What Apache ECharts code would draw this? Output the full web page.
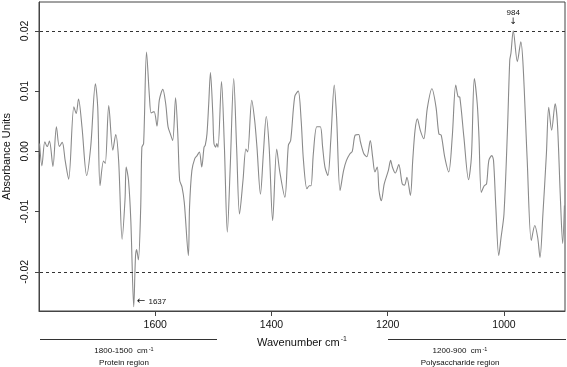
<!DOCTYPE html>
<html>
<head>
<meta charset="utf-8">
<script src="https://cdn.jsdelivr.net/npm/echarts@6/dist/echarts.min.js"></script>
<style>
html, body { margin: 0; padding: 0; background: #fff; }
#chart { width: 567px; height: 367px; }
</style>
</head>
<body>
<div id="chart"></div>
<script>
// spectrum (wavenumber in cm-1, absorbance units)
const wavenumber = [
  1799, 1795, 1790, 1786, 1782, 1776, 1770, 1765, 1760, 1755, 1749, 1740, 1736, 1732, 1726,
  1718, 1711, 1703, 1699, 1695, 1689, 1686, 1680, 1673, 1668, 1663, 1657, 1652, 1650,
  1646, 1642, 1637, 1634, 1632, 1629, 1625, 1623, 1620, 1615, 1610, 1607, 1602, 1597, 1593,
  1587, 1582, 1578, 1574, 1570, 1565, 1561, 1558, 1554, 1550, 1543, 1541, 1537, 1532, 1528,
  1524, 1520, 1516, 1514, 1511, 1508, 1505, 1501,
  1499, 1496, 1494, 1492, 1486, 1481, 1476, 1471, 1465, 1460, 1455, 1449, 1444, 1441, 1434,
  1429, 1425, 1419, 1414, 1409, 1404, 1398, 1391, 1386, 1377, 1371, 1367, 1360, 1354, 1349,
  1345, 1339, 1335, 1332, 1328, 1322, 1316, 1312, 1308, 1303, 1298, 1292, 1288, 1282, 1276,
  1271, 1265, 1261, 1256, 1250, 1247, 1241, 1236, 1230, 1226, 1222, 1218, 1215, 1211, 1206, 1199,
  1195, 1192, 1187, 1181, 1175, 1171, 1167, 1161, 1157, 1153, 1149, 1144, 1138, 1132, 1124,
  1117, 1112, 1108, 1102, 1095, 1089, 1083, 1079, 1076, 1069, 1061, 1056, 1051,
  1046, 1043, 1039, 1034, 1030, 1026, 1021, 1018, 1014, 1009, 1005, 1000, 994, 990, 988,
  984, 977, 971, 967, 960, 953, 947, 942, 938, 933, 927, 923, 918, 912, 908, 903, 899, 896
];
const absorbance = [
  0.0013, -0.0024, 0.0016, 0.0008, 0.0017, -0.0025, 0.0041, 0.0008, 0.0015, -0.0015, -0.0046, 0.0074, 0.0063, 0.0087, 0.0040,
  -0.0040, 0.0008, 0.0112, 0.0074, -0.0057, -0.0016, -0.0020, 0.0076, 0.0002, 0.0028, -0.0015, -0.0146, -0.0080, -0.0026,
  -0.0048, -0.0115, -0.0258, -0.0175, -0.0163, -0.0180, -0.0093, 0.0007, 0.0013, 0.0165, 0.0091, 0.0064, 0.0066, 0.0042, 0.0085,
  0.0103, 0.0079, 0.0041, 0.0029, 0.0018, 0.0089, 0.0024, -0.0048, -0.0059, -0.0085, -0.0173, -0.0093, -0.0032, -0.0012, -0.0007,
  -0.0001, -0.0026, 0.0007, 0.0010, 0.0029, 0.0079, 0.0131, 0.0063,
  0.0013, 0.0007, 0.0013, 0.0007, 0.0116, 0.0007, -0.0134, -0.0026, 0.0121, 0.0007, -0.0104, -0.0048, 0.0004, -0.0001, 0.0085,
  0.0052, 0.0007, -0.0071, -0.0004, 0.0058, 0.0007, -0.0115, 0.0004, -0.0032, -0.0076, 0.0010, 0.0018, 0.0091, 0.0100, 0.0052,
  -0.0015, -0.0062, -0.0057, -0.0057, -0.0004, 0.0041, 0.0041, 0.0007, -0.0026, -0.0040, 0.0018, 0.0110, 0.0057, -0.0065, -0.0032,
  -0.0015, -0.0004, 0.0000, 0.0027, 0.0028, 0.0016, -0.0004, -0.0009, 0.0018, -0.0009, -0.0034, -0.0026, -0.0065, -0.0082, -0.0054, -0.0032,
  -0.0015, -0.0026, -0.0036, -0.0022, -0.0054, -0.0056, -0.0043, -0.0073, -0.0015, 0.0035, 0.0054, 0.0035, 0.0021, 0.0071, 0.0104,
  0.0074, 0.0029, 0.0027, -0.0009, -0.0034, 0.0024, 0.0110, 0.0091, 0.0090, 0.0024, -0.0047, -0.0009, 0.0121,
  0.0079, 0.0024, -0.0068, -0.0057, -0.0054, -0.0015, -0.0007, -0.0015, -0.0093, -0.0173, -0.0143, -0.0104, 0.0035, 0.0152, 0.0163,
  0.0200, 0.0149, 0.0182, 0.0141, -0.0015, -0.0148, -0.0123, -0.0143, -0.0176, -0.0104, -0.0004, 0.0073, 0.0035, 0.0079, 0.0046, -0.0076, -0.0153, -0.0090
];

const xTicks = [1600, 1400, 1200, 1000];
const yTicks = [-0.02, -0.01, 0, 0.01, 0.02];
const thresholds = [0.02, -0.02];
const peakUp = 984;
const peakDown = 1637;

const FONT = 'Liberation Sans, Arial, sans-serif';

var myChart = echarts.init(document.getElementById('chart'));

const seriesData = wavenumber.map(function (w, i) { return [w, absorbance[i]]; });
const valueAt = function (w) { return absorbance[wavenumber.indexOf(w)]; };

option = {
    animation: false,
    grid: {
        left: 39, right: 2, top: 2, bottom: 56,
        outerBoundsMode: 'none',
        containLabel: false,
        show: true, borderColor: '#444', borderWidth: 1
    },
    xAxis: {
        type: 'value',
        inverse: true,
        min: 895,
        max: 1800,
        name: '{n|Wavenumber cm}{s|-1}',
        nameLocation: 'middle',
        nameGap: 25,
        nameTextStyle: {
            rich: {
                n: { fontFamily: FONT, fontSize: 11, color: '#111' },
                s: { fontFamily: FONT, fontSize: 7, color: '#111', padding: [0, 0, 6, 1] }
            }
        },
        axisLine: { show: true, onZero: false, lineStyle: { color: '#444' } },
        axisTick: { show: true, length: 5, customValues: xTicks, lineStyle: { color: '#444' } },
        axisLabel: {
            customValues: xTicks, margin: 9, fontFamily: FONT, fontSize: 10.5, color: '#111',
            formatter: function (v) { return String(v); }
        },
        splitLine: { show: false }
    },
    yAxis: {
        type: 'value',
        min: -0.0265,
        max: 0.0248,
        name: 'Absorbance Units',
        nameLocation: 'middle',
        nameGap: 27,
        nameTextStyle: { fontFamily: FONT, fontSize: 11, color: '#111' },
        axisLine: { show: true, lineStyle: { color: '#444' } },
        axisTick: { show: true, length: 4, customValues: yTicks, lineStyle: { color: '#444' } },
        axisLabel: {
            customValues: yTicks, rotate: 90, margin: 8,
            fontFamily: FONT, fontSize: 10.5, color: '#111',
            formatter: function (v) { return v.toFixed(2); }
        },
        splitLine: { show: false }
    },
    series: [{
        type: 'line',
        data: seriesData,
        smooth: 0.3,
        showSymbol: false,
        lineStyle: { color: '#8a8a8a', width: 1.1 },
        markLine: {
            silent: true,
            symbol: 'none',
            label: { show: false },
            lineStyle: { color: '#333', width: 1, type: [3, 3] },
            data: thresholds.map(function (t) { return { yAxis: t }; })
        },
        markPoint: {
            silent: true,
            symbol: 'circle',
            symbolSize: 0,
            data: [{
                coord: [peakUp, valueAt(peakUp)],
                label: {
                    show: true, position: 'top', distance: 4,
                    formatter: '{t|' + peakUp + '}\n{a|↓}',
                    rich: {
                        t: { fontFamily: FONT, fontSize: 8, color: '#111', lineHeight: 9 },
                        a: { fontFamily: 'DejaVu Sans', fontSize: 9, color: '#111', lineHeight: 10, align: 'center' }
                    }
                }
            }, {
                coord: [peakDown, valueAt(peakDown)],
                label: {
                    show: true, position: 'right', distance: 3, offset: [0, -5],
                    formatter: '{a|←} {t|' + peakDown + '}',
                    rich: {
                        t: { fontFamily: FONT, fontSize: 8, color: '#111' },
                        a: { fontFamily: 'DejaVu Sans', fontSize: 10, color: '#111' }
                    }
                }
            }]
        }
    }],
    graphic: [
        { type: 'line', shape: { x1: 40, y1: 339.5, x2: 217, y2: 339.5 }, style: { stroke: '#333', lineWidth: 1 } },
        { type: 'line', shape: { x1: 388, y1: 339.5, x2: 566, y2: 339.5 }, style: { stroke: '#333', lineWidth: 1 } },
        {
            type: 'text', x: 124, y: 351,
            style: {
                text: '{n|1800-1500  cm}{s|-1}', align: 'center', verticalAlign: 'middle',
                rich: {
                    n: { fontFamily: FONT, fontSize: 8, fill: '#111' },
                    s: { fontFamily: FONT, fontSize: 5.5, fill: '#111', padding: [0, 0, 4, 1] }
                }
            }
        },
        { type: 'text', x: 124, y: 363, style: { text: 'Protein region', align: 'center', verticalAlign: 'middle', fontFamily: FONT, fontSize: 8, fill: '#111' } },
        {
            type: 'text', x: 460, y: 351,
            style: {
                text: '{n|1200-900  cm}{s|-1}', align: 'center', verticalAlign: 'middle',
                rich: {
                    n: { fontFamily: FONT, fontSize: 8, fill: '#111' },
                    s: { fontFamily: FONT, fontSize: 5.5, fill: '#111', padding: [0, 0, 4, 1] }
                }
            }
        },
        { type: 'text', x: 460, y: 363, style: { text: 'Polysaccharide region', align: 'center', verticalAlign: 'middle', fontFamily: FONT, fontSize: 8, fill: '#111' } }
    ]
};
myChart.setOption(option);
</script>
</body>
</html>
